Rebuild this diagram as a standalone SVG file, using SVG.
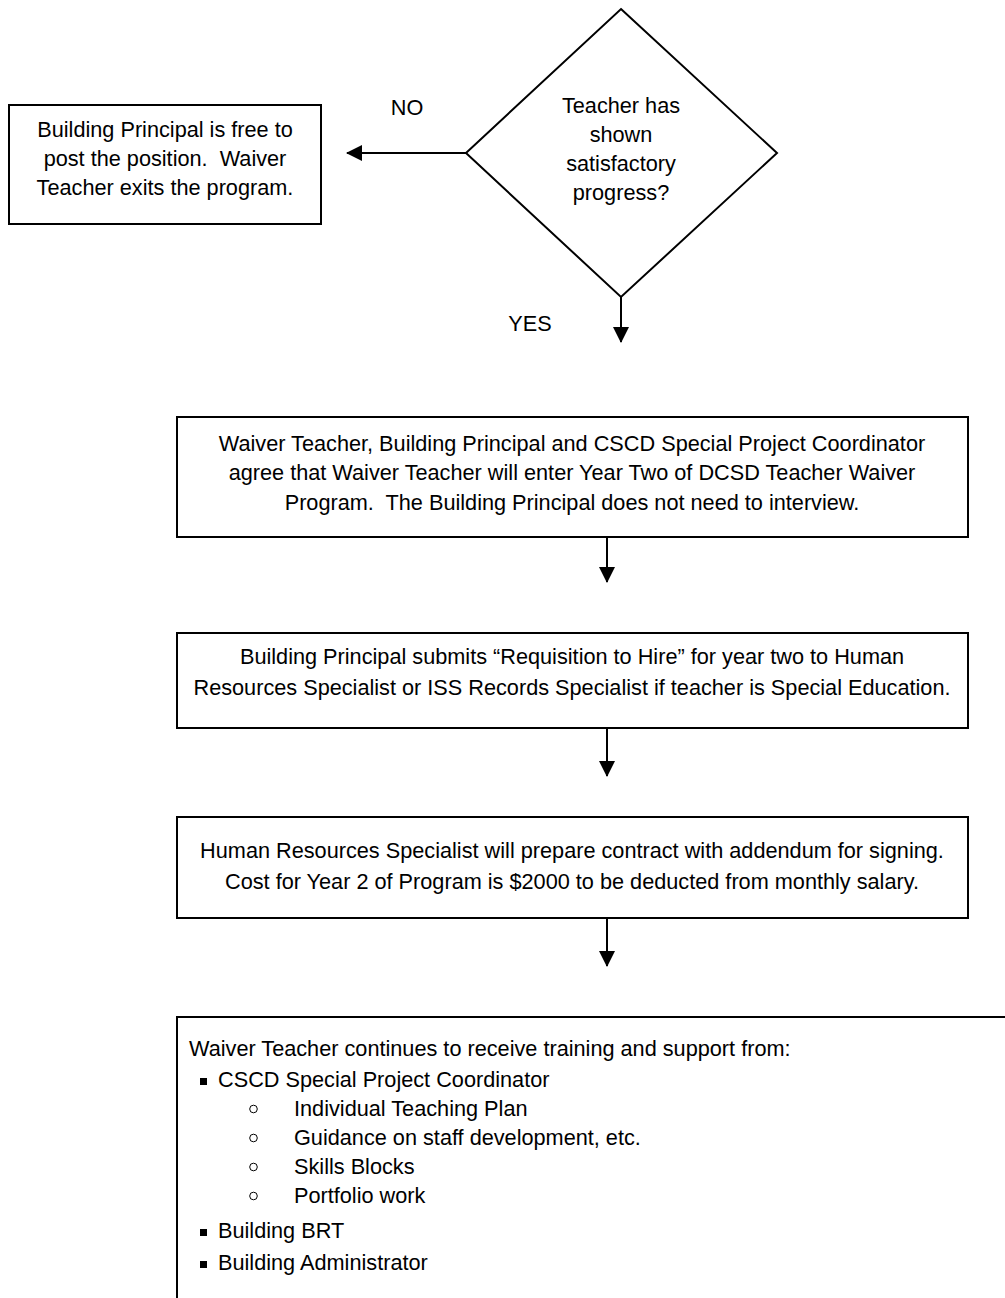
<svg xmlns="http://www.w3.org/2000/svg" width="1005" height="1298" viewBox="0 0 1005 1298">
<style>
.box{fill:#fff;stroke:#000;stroke-width:2}
.t{font-family:"Liberation Sans",Arial,sans-serif;font-size:21.7px;fill:#000}
.c{text-anchor:middle}
.conn{stroke:#000;stroke-width:2;fill:none}
.sub{fill:none;stroke:#000;stroke-width:1}
</style>
<defs>
<marker id="ah" markerWidth="8" markerHeight="8" refX="7.5" refY="4" orient="auto" markerUnits="strokeWidth"><path d="M0,0 L8,4 L0,8 Z" fill="#000"/></marker>
</defs>
<rect width="1005" height="1298" fill="#fff"/>
<g id="decision">
<polygon class="box" points="621,9 777,153 621,297 466,153"/>
<text class="t c" x="621" y="113">Teacher has</text>
<text class="t c" x="621" y="142">shown</text>
<text class="t c" x="621" y="171">satisfactory</text>
<text class="t c" x="621" y="200">progress?</text>
</g>
<g id="exit">
<rect class="box" x="9" y="105" width="312" height="119"/>
<text class="t c" x="165" y="137">Building Principal is free to</text>
<text class="t c" x="165" y="166" xml:space="preserve">post the position.  Waiver</text>
<text class="t c" x="165" y="195">Teacher exits the program.</text>
</g>
<g id="agree">
<rect class="box" x="177" y="417" width="791" height="120"/>
<text class="t c" x="572" y="451">Waiver Teacher, Building Principal and CSCD Special Project Coordinator</text>
<text class="t c" x="572" y="480">agree that Waiver Teacher will enter Year Two of DCSD Teacher Waiver</text>
<text class="t c" x="572" y="510" xml:space="preserve">Program.  The Building Principal does not need to interview.</text>
</g>
<g id="requisition">
<rect class="box" x="177" y="633" width="791" height="95"/>
<text class="t c" x="572" y="664">Building Principal submits “Requisition to Hire” for year two to Human</text>
<text class="t c" x="572" y="695">Resources Specialist or ISS Records Specialist if teacher is Special Education.</text>
</g>
<g id="contract">
<rect class="box" x="177" y="817" width="791" height="101"/>
<text class="t c" x="572" y="858">Human Resources Specialist will prepare contract with addendum for signing.</text>
<text class="t c" x="572" y="889">Cost for Year 2 of Program is $2000 to be deducted from monthly salary.</text>
</g>
<g id="support">
<rect class="box" x="177" y="1017" width="840" height="300"/>
<text class="t" x="189" y="1056">Waiver Teacher continues to receive training and support from:</text>
<rect x="200" y="1078" width="7" height="7" fill="#000"/>
<text class="t" x="218" y="1087">CSCD Special Project Coordinator</text>
<circle class="sub" cx="253.5" cy="1109" r="3.8"/>
<text class="t" x="294" y="1116">Individual Teaching Plan</text>
<circle class="sub" cx="253.5" cy="1138" r="3.8"/>
<text class="t" x="294" y="1145">Guidance on staff development, etc.</text>
<circle class="sub" cx="253.5" cy="1167" r="3.8"/>
<text class="t" x="294" y="1174">Skills Blocks</text>
<circle class="sub" cx="253.5" cy="1196" r="3.8"/>
<text class="t" x="294" y="1203">Portfolio work</text>
<rect x="200" y="1229" width="7" height="7" fill="#000"/>
<text class="t" x="218" y="1238">Building BRT</text>
<rect x="200" y="1261" width="7" height="7" fill="#000"/>
<text class="t" x="218" y="1270">Building Administrator</text>
</g>
<g id="connectors">
<line class="conn" x1="466" y1="153" x2="347" y2="153" marker-end="url(#ah)"/>
<text class="t c" x="407" y="115">NO</text>
<line class="conn" x1="621" y1="297" x2="621" y2="342" marker-end="url(#ah)"/>
<text class="t c" x="530" y="331">YES</text>
<line class="conn" x1="607" y1="537" x2="607" y2="582" marker-end="url(#ah)"/>
<line class="conn" x1="607" y1="728" x2="607" y2="776" marker-end="url(#ah)"/>
<line class="conn" x1="607" y1="918" x2="607" y2="966" marker-end="url(#ah)"/>
</g>
</svg>
